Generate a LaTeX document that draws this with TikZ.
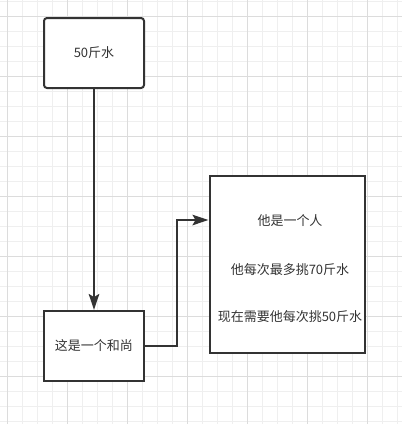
\documentclass[tikz,border=0pt]{standalone}
\usepackage{fontspec}
\newfontfamily\cjk{Noto Sans CJK SC}
\usetikzlibrary{arrows.meta}

\definecolor{ink}{HTML}{333333}
\definecolor{gridminor}{HTML}{EFEFEF}
\definecolor{gridmajor}{HTML}{DCDCDC}

\begin{document}
\begin{tikzpicture}[x = 1pt, y = -1pt,
	> = {Stealth[length = 16pt, width = 10.5pt, inset = 3pt]},
	box/.style = {draw = ink, line width = 2pt, fill = white,
		minimum width = 100pt, minimum height = 70pt, inner sep = 0pt},
	words/.style = {text = ink, font = \cjk\fontsize{13pt}{15pt}\selectfont},
	link/.style = {draw = ink, line width = 2pt}]

	% Grid
	
	\useasboundingbox (0, 0) rectangle (402, 424);
	\fill [white] (0, 0) rectangle (402, 424);
	
	\begin{scope}[gridminor, line width = 1pt]
	
		\foreach \x in {7, 22, ..., 397} \draw (\x, 0) -- (\x, 424);
		\foreach \y in {1, 16, ..., 421} \draw (0, \y) -- (402, \y);
		
	\end{scope}
	
	\begin{scope}[gridmajor, line width = 1pt]
	
		\foreach \x in {7, 67, ..., 367} \draw (\x, 0) -- (\x, 424);
		\foreach \y in {16, 76, ..., 376} \draw (0, \y) -- (402, \y);
		
	\end{scope}
	
	% Boxes
	
	\node [box, words, rounded corners = 3pt] (water) at (94, 53) {50斤水};
	\node [box, words] (monk) at (94, 346) {这是一个和尚};
	\node [box, minimum width = 155pt, minimum height = 177pt] (person) at (287, 264.5) {};
	
	\node [words] (fact1) at (290, 221) {他是一个人};
	\node [words] (fact2) at (290, 270) {他每次最多挑70斤水};
	\node [words] (fact3) at (290, 317) {现在需要他每次挑50斤水};
	
	% Connectors
	
	\draw [link, ->] (water) -- (monk);
	\coordinate (turn) at (177, 220);
	\draw [link, ->] (monk.east) -| (turn) -- (person.west |- turn);

\end{tikzpicture}
\end{document}
